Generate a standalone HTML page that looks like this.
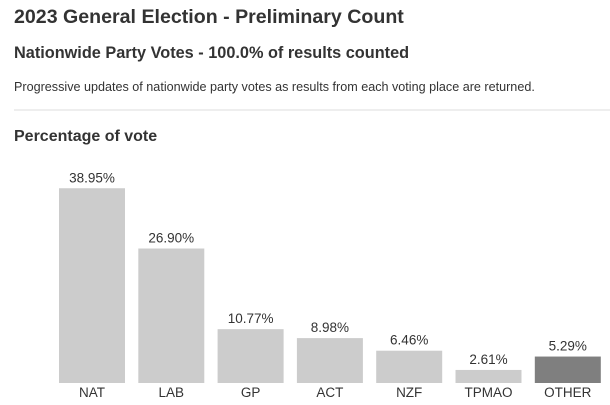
<!DOCTYPE html>
<html><head><meta charset="utf-8"><style>
body{margin:0;width:610px;height:405px;background:#fff;font-family:"Liberation Sans",Arial,sans-serif;color:#333;overflow:hidden;position:relative}
.t{position:absolute;left:14px;white-space:nowrap}
</style></head><body>
<div class="t" style="top:6px;font-size:19.6px;font-weight:bold">2023 General Election - Preliminary Count</div>
<div class="t" style="top:44px;font-size:16.3px;font-weight:bold">Nationwide Party Votes - 100.0% of results counted</div>
<div class="t" style="top:80px;font-size:12.6px">Progressive updates of nationwide party votes as results from each voting place are returned.</div>
<div style="position:absolute;left:14px;right:0;top:109px;height:2px;background:#eee"></div>
<div class="t" style="top:128px;font-size:16px;font-weight:bold">Percentage of vote</div>
<svg id="c" width="610" height="405" style="position:absolute;left:0;top:0"></svg>
<script>
const categories=["NAT","LAB","GP","ACT","NZF","TPMAO","OTHER"];
const values=[38.95,26.90,10.77,8.98,6.46,2.61,5.29];
const valueLabels=["38.95%","26.90%","10.77%","8.98%","6.46%","2.61%","5.29%"];
const svg=document.getElementById('c');
const NS="http://www.w3.org/2000/svg";
const baseY=383,pxPer=5.0,x0=59,step=79.3,bw=66;
const y=v=>baseY-v*pxPer;
const x=i=>x0+i*step;
categories.forEach((c,i)=>{
  const r=document.createElementNS(NS,'rect');
  r.setAttribute('x',x(i));r.setAttribute('y',y(values[i]));
  r.setAttribute('width',bw);r.setAttribute('height',baseY-y(values[i]));
  r.setAttribute('fill',c==="OTHER"?"#7f7f7f":"#cccccc");
  
  
  svg.appendChild(r);
  const t=document.createElementNS(NS,'text');
  t.setAttribute('x',x(i)+bw/2);t.setAttribute('y',y(values[i])-6);
  t.setAttribute('text-anchor','middle');t.setAttribute('font-size','13.5');t.setAttribute('fill','#333');
  t.setAttribute('font-family','Liberation Sans, sans-serif');
  t.textContent=valueLabels[i];
  
  
  svg.appendChild(t);
  const l=document.createElementNS(NS,'text');
  l.setAttribute('x',x(i)+bw/2);l.setAttribute('y',397);
  l.setAttribute('text-anchor','middle');l.setAttribute('font-size','13.5');l.setAttribute('fill','#333');
  l.setAttribute('font-family','Liberation Sans, sans-serif');
  l.textContent=c;
  
  
  svg.appendChild(l);
});
</script>
</body></html>
